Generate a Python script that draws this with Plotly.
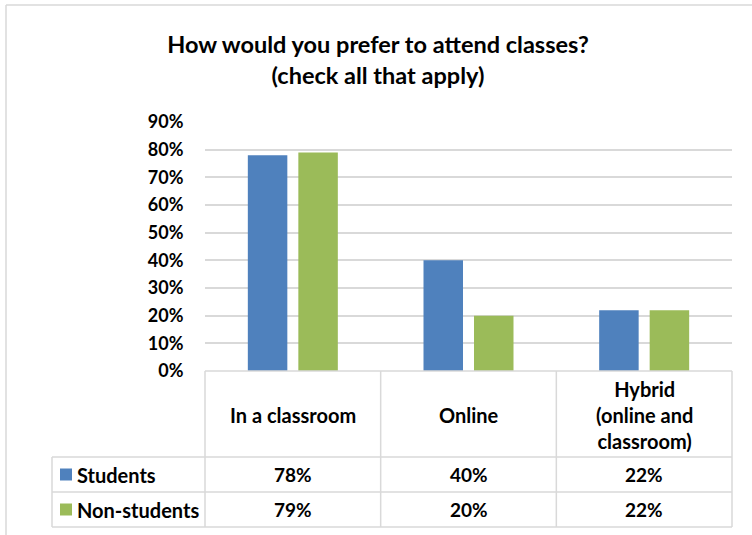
import plotly.graph_objects as go

# ---- data ----
categories = ["In a classroom", "Online", "Hybrid<br>(online and<br>classroom)"]
series_names = ["Students", "Non-students"]
students = [78, 40, 22]
non_students = [79, 20, 22]
y_ticks = [0, 10, 20, 30, 40, 50, 60, 70, 80, 90]
title_text = "How would you prefer to attend classes?<br>(check all that apply)"

# ---- layout constants ----
W, H = 752, 535
L, R, T, B = 205, 20, 122, 164
PW, PH = W - L - R, H - T - B
FONT = "Lato"
GRID = "#D9D9D9"
COLORS = ["#4F81BD", "#9BBB59"]


def px_x(px):
    return (px - L) / PW


def px_y(py):
    return (H - B - py) / PH


fig = go.Figure()
for name, vals, col in zip(series_names, [students, non_students], COLORS):
    fig.add_trace(go.Bar(
        x=categories, y=[v / 100 for v in vals], name=name,
        marker=dict(color=col, line=dict(width=0)), showlegend=False,
    ))

shapes = []
line = dict(color=GRID, width=1.5)
# outer chart border (top & left)
shapes.append(dict(type="line", xref="paper", yref="paper", x0=px_x(6), x1=px_x(760),
                   y0=px_y(5), y1=px_y(5), line=line))
shapes.append(dict(type="line", xref="paper", yref="paper", x0=px_x(6), x1=px_x(6),
                   y0=px_y(5), y1=px_y(540), line=line))

# data table geometry
n = len(categories)
col_px = [L + k * PW / n for k in range(n + 1)]
table_left = 52
row_px = [H - B, 457, 492, 527]
shapes.append(dict(type="line", xref="paper", yref="paper", x0=px_x(col_px[0]), x1=px_x(col_px[-1]),
                   y0=px_y(row_px[0]), y1=px_y(row_px[0]), line=line))
for rp in row_px[1:]:
    shapes.append(dict(type="line", xref="paper", yref="paper", x0=px_x(table_left), x1=px_x(col_px[-1]),
                       y0=px_y(rp), y1=px_y(rp), line=line))
for cp in col_px:
    shapes.append(dict(type="line", xref="paper", yref="paper", x0=px_x(cp), x1=px_x(cp),
                       y0=px_y(row_px[0]), y1=px_y(row_px[-1]), line=line))
shapes.append(dict(type="line", xref="paper", yref="paper", x0=px_x(table_left), x1=px_x(table_left),
                   y0=px_y(row_px[1]), y1=px_y(row_px[-1]), line=line))

annotations = []
tfont = dict(family=FONT, size=20, color="black")
nfont = dict(family=FONT, size=19, color="black")
header_mid = (row_px[0] + row_px[1]) / 2 + 1
for c in categories:
    annotations.append(dict(x=c, xref="x", y=px_y(header_mid), yref="paper", text=f"<b>{c}</b>",
                            showarrow=False, font=tfont, xanchor="center", yanchor="middle"))
for i, (name, vals, col) in enumerate(zip(series_names, [students, non_students], COLORS)):
    mid = (row_px[i + 1] + row_px[i + 2]) / 2
    shapes.append(dict(type="rect", xref="paper", yref="paper", x0=px_x(60), x1=px_x(72),
                       y0=px_y(mid - 6), y1=px_y(mid + 6), fillcolor=col, line=dict(width=0)))
    annotations.append(dict(x=px_x(75), xref="paper", y=px_y(mid), yref="paper", text=f"<b>{name}</b>",
                            showarrow=False, font=tfont, xanchor="left", yanchor="middle"))
    for c, v in zip(categories, vals):
        annotations.append(dict(x=c, xref="x", y=px_y(mid), yref="paper", text=f"<b>{v}%</b>",
                                showarrow=False, font=nfont, xanchor="center", yanchor="middle"))

fig.update_layout(
    width=W, height=H, autosize=False,
    margin=dict(l=L, r=R, t=T, b=B, pad=0),
    paper_bgcolor="white", plot_bgcolor="white",
    title=dict(text=f"<b>{title_text}</b>", x=378 / W, xref="container", xanchor="center",
               y=1 - 53 / H, yref="container", yanchor="middle",
               font=dict(family=FONT, size=23.5, color="black")),
    barmode="group", bargap=0.425, bargroupgap=0.218,
    xaxis=dict(showticklabels=False, showgrid=False, zeroline=False, showline=False, ticks=""),
    yaxis=dict(range=[0, 0.9], tickvals=[t / 100 for t in y_ticks],
               ticktext=[f"<b>{t}%</b>" for t in y_ticks],
               showgrid=True, gridcolor=GRID, gridwidth=1.5, zeroline=False, showline=False,
               ticks="outside", ticklen=17, tickcolor="rgba(0,0,0,0)",
               tickfont=dict(family=FONT, size=18, color="black")),
    shapes=shapes, annotations=annotations,
)

fig.write_html("out.html", config={"displayModeBar": False},
               post_script="document.body.style.margin='0';")
